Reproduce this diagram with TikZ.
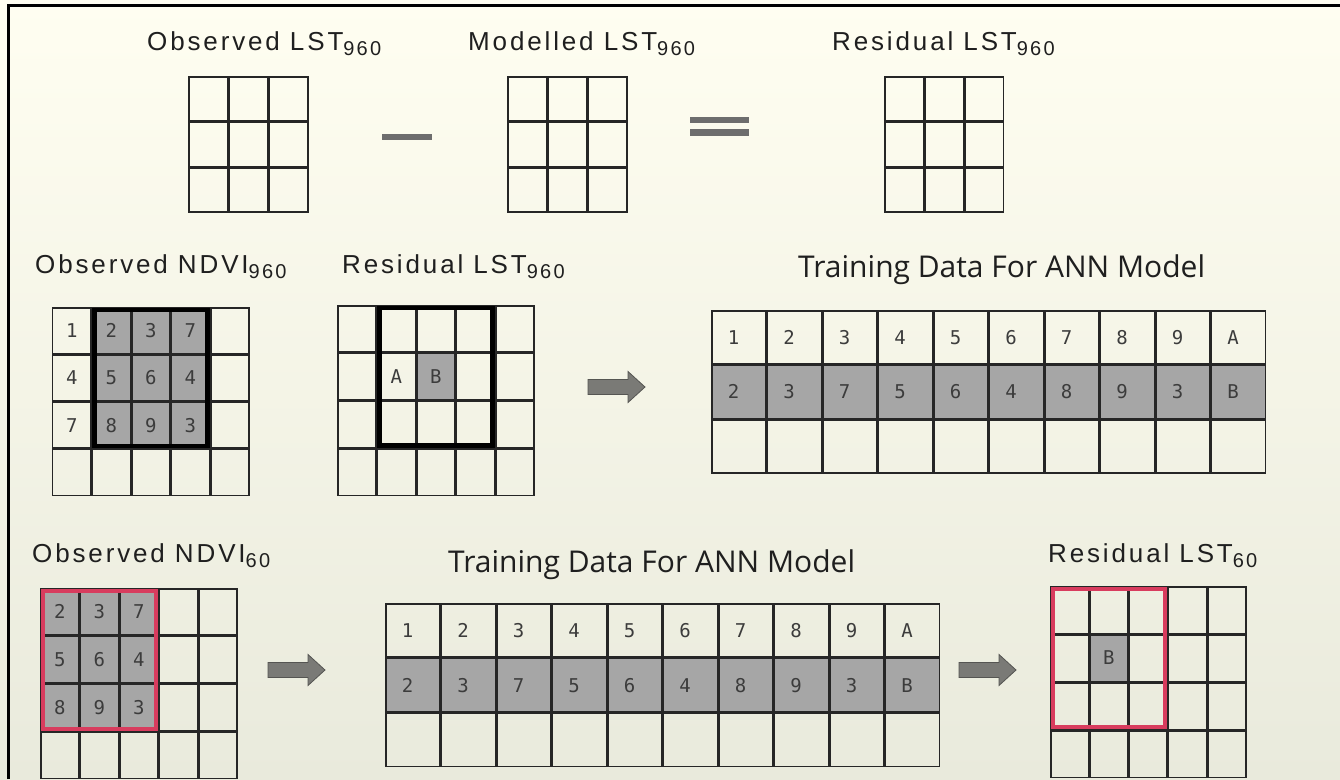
\documentclass[tikz,border=0pt]{standalone}
\usepackage{fontspec}
\setmainfont{Liberation Sans}
\newfontfamily\headfont[LetterSpace=11]{Liberation Sans}
\newfontfamily\annfont{Open Sans}
\newfontfamily\cellfont{DejaVu Sans Mono}
\usepackage{xcolor}
\usepackage{tikz}
\usetikzlibrary{matrix,calc}

\definecolor{paper}{HTML}{FFFEF1}
\definecolor{papermid}{HTML}{FBFBEE}
\definecolor{paperlow}{HTML}{E9EADC}
\definecolor{gridline}{HTML}{262626}
\definecolor{cellgray}{HTML}{A6A6A6}
\definecolor{celltext}{HTML}{3C3C3C}
\definecolor{signgray}{HTML}{6D6D6D}
\definecolor{arrowgray}{HTML}{7A7A76}
\definecolor{arrowedge}{HTML}{555552}
\definecolor{windowred}{HTML}{D83C5E}

% resolution index under a heading
\newcommand{\lowidx}[1]{\raisebox{-5pt}{\fontsize{20}{20}\selectfont #1}}

\tikzset{
  heading/.style={anchor=base west, inner sep=0pt, text=black!88,
    font=\headfont\fontsize{26}{30}\selectfont},
  annheading/.style={anchor=base west, inner sep=0pt, text=black!88,
    font=\annfont\fontsize{30}{35}\selectfont},
  cell/.style={draw=gridline, line width=1.5pt, inner sep=0pt, outer sep=0pt,
    anchor=center, text=celltext, font=\cellfont\fontsize{19}{20}\selectfont},
  tablecell/.style={cell, text width=22pt, align=left, inner xsep=16pt},
  graycell/.style={fill=cellgray},
  raster/.style={matrix of nodes, nodes in empty cells, anchor=north west,
    inner sep=0pt, outer sep=0pt, column sep=0pt, row sep=0pt},
  window/.style={draw=black, line width=4.5pt},
  redwindow/.style={draw=windowred, line width=4pt},
  pics/fatarrow/.style={code={
    \filldraw[draw=arrowedge, fill=arrowgray, line width=0.8pt]
      (0,-7.5) -- (40,-7.5) -- (40,-15.5) -- (57,0) -- (40,15.5)
      -- (40,7.5) -- (0,7.5) -- cycle;
  }}
}

\begin{document}
\begin{tikzpicture}[x=1pt, y=-1pt]
\useasboundingbox (0,0) rectangle (1340,779);
\shade[top color=paper, middle color=papermid, bottom color=paperlow]
  (0,0) rectangle (1340,779);
\draw[line width=3pt] (8.5,779) -- (8.5,5.5) -- (1340,5.5);

% Row 1: observed - modelled = residual
\node[heading] (obslst) at (147,50) {Observed LST\lowidx{960}};
\node[heading] (modlst) at (468,50) {Modelled LST\lowidx{960}};
\node[heading] (reslst) at (832,50) {Residual LST\lowidx{960}};

\matrix[raster, nodes={cell, minimum width=38.7pt, minimum height=44pt}]
  (lstobs) at (188,76) { & & \\ & & \\ & & \\ };
\matrix[raster, nodes={cell, minimum width=38.7pt, minimum height=44pt}]
  (lstmod) at (507,76) { & & \\ & & \\ & & \\ };
\matrix[raster, nodes={cell, minimum width=38.5pt, minimum height=44pt}]
  (lstres) at (884,76) { & & \\ & & \\ & & \\ };

\fill[signgray] (382,134) rectangle (432,140);
\fill[signgray] (690,117) rectangle (749,123);
\fill[signgray] (690,129) rectangle (749,136);

% Row 2: coarse NDVI window + residual -> training data
\node[heading] (ndvititle) at (35,273) {Observed NDVI\lowidx{960}};
\node[heading] (restitle) at (342,273) {Residual LST\lowidx{960}};
\node[annheading] (anntitle) at (798,277) {Training Data For ANN Model};

\matrix[raster, nodes={cell, minimum width=38pt, minimum height=45.75pt}]
  (ndvihi) at (52,307) {
  1 & |[graycell]| 2 & |[graycell]| 3 & |[graycell]| 7 & \\
  4 & |[graycell]| 5 & |[graycell]| 6 & |[graycell]| 4 & \\
  7 & |[graycell]| 8 & |[graycell]| 9 & |[graycell]| 3 & \\
    & & & & \\
};
\draw[window] ($(ndvihi-1-2.north west)+(2,2)$)
  rectangle ($(ndvihi-3-4.south east)+(-2,-2)$);

\matrix[raster, nodes={cell, minimum width=38pt, minimum height=46.25pt}]
  (reshi) at (337,305) {
  & & & & \\
  & A & |[graycell]| B & & \\
  & & & & \\
  & & & & \\
};
\draw[window] ($(reshi-1-2.north west)+(2,2)$)
  rectangle ($(reshi-3-4.south east)+(-2,-2)$);

\pic (arrowA) at (588,387) {fatarrow};

\matrix[raster, nodes={tablecell, minimum height=53pt},
  row 2/.style={nodes={graycell}}] (trainhi) at (711,310) {
  1 & 2 & 3 & 4 & 5 & 6 & 7 & 8 & 9 & A \\
  2 & 3 & 7 & 5 & 6 & 4 & 8 & 9 & 3 & B \\
    & & & & & & & & & \\
};

% Row 3: fine NDVI window -> trained model -> fine residual
\node[heading] (ndvilotitle) at (32,562) {Observed NDVI\lowidx{60}};
\node[annheading] (annlotitle) at (448,572) {Training Data For ANN Model};
\node[heading] (reslotitle) at (1048,562) {Residual LST\lowidx{60}};

\matrix[raster, nodes={cell, minimum width=38pt, minimum height=46.25pt}]
  (ndvilo) at (40,588) {
  |[graycell]| 2 & |[graycell]| 3 & |[graycell]| 7 & & \\
  |[graycell]| 5 & |[graycell]| 6 & |[graycell]| 4 & & \\
  |[graycell]| 8 & |[graycell]| 9 & |[graycell]| 3 & & \\
  & & & & \\
};
\draw[redwindow] ($(ndvilo-1-1.north west)+(2,2)$)
  rectangle ($(ndvilo-3-3.south east)+(-2,-2)$);

\pic (arrowB) at (268,670) {fatarrow};

\matrix[raster, nodes={tablecell, minimum height=53.3pt},
  row 2/.style={nodes={graycell}}] (trainlo) at (385,603) {
  1 & 2 & 3 & 4 & 5 & 6 & 7 & 8 & 9 & A \\
  2 & 3 & 7 & 5 & 6 & 4 & 8 & 9 & 3 & B \\
    & & & & & & & & & \\
};

\pic (arrowC) at (959,670) {fatarrow};

\matrix[raster, nodes={cell, minimum width=37.8pt, minimum height=46.5pt}]
  (reslo) at (1050,586) {
  & & & & \\
  & |[graycell]| B & & & \\
  & & & & \\
  & & & & \\
};
\draw[redwindow] ($(reslo-1-1.north west)+(2,2)$)
  rectangle ($(reslo-3-3.south east)+(-2,-2)$);
\end{tikzpicture}
\end{document}
